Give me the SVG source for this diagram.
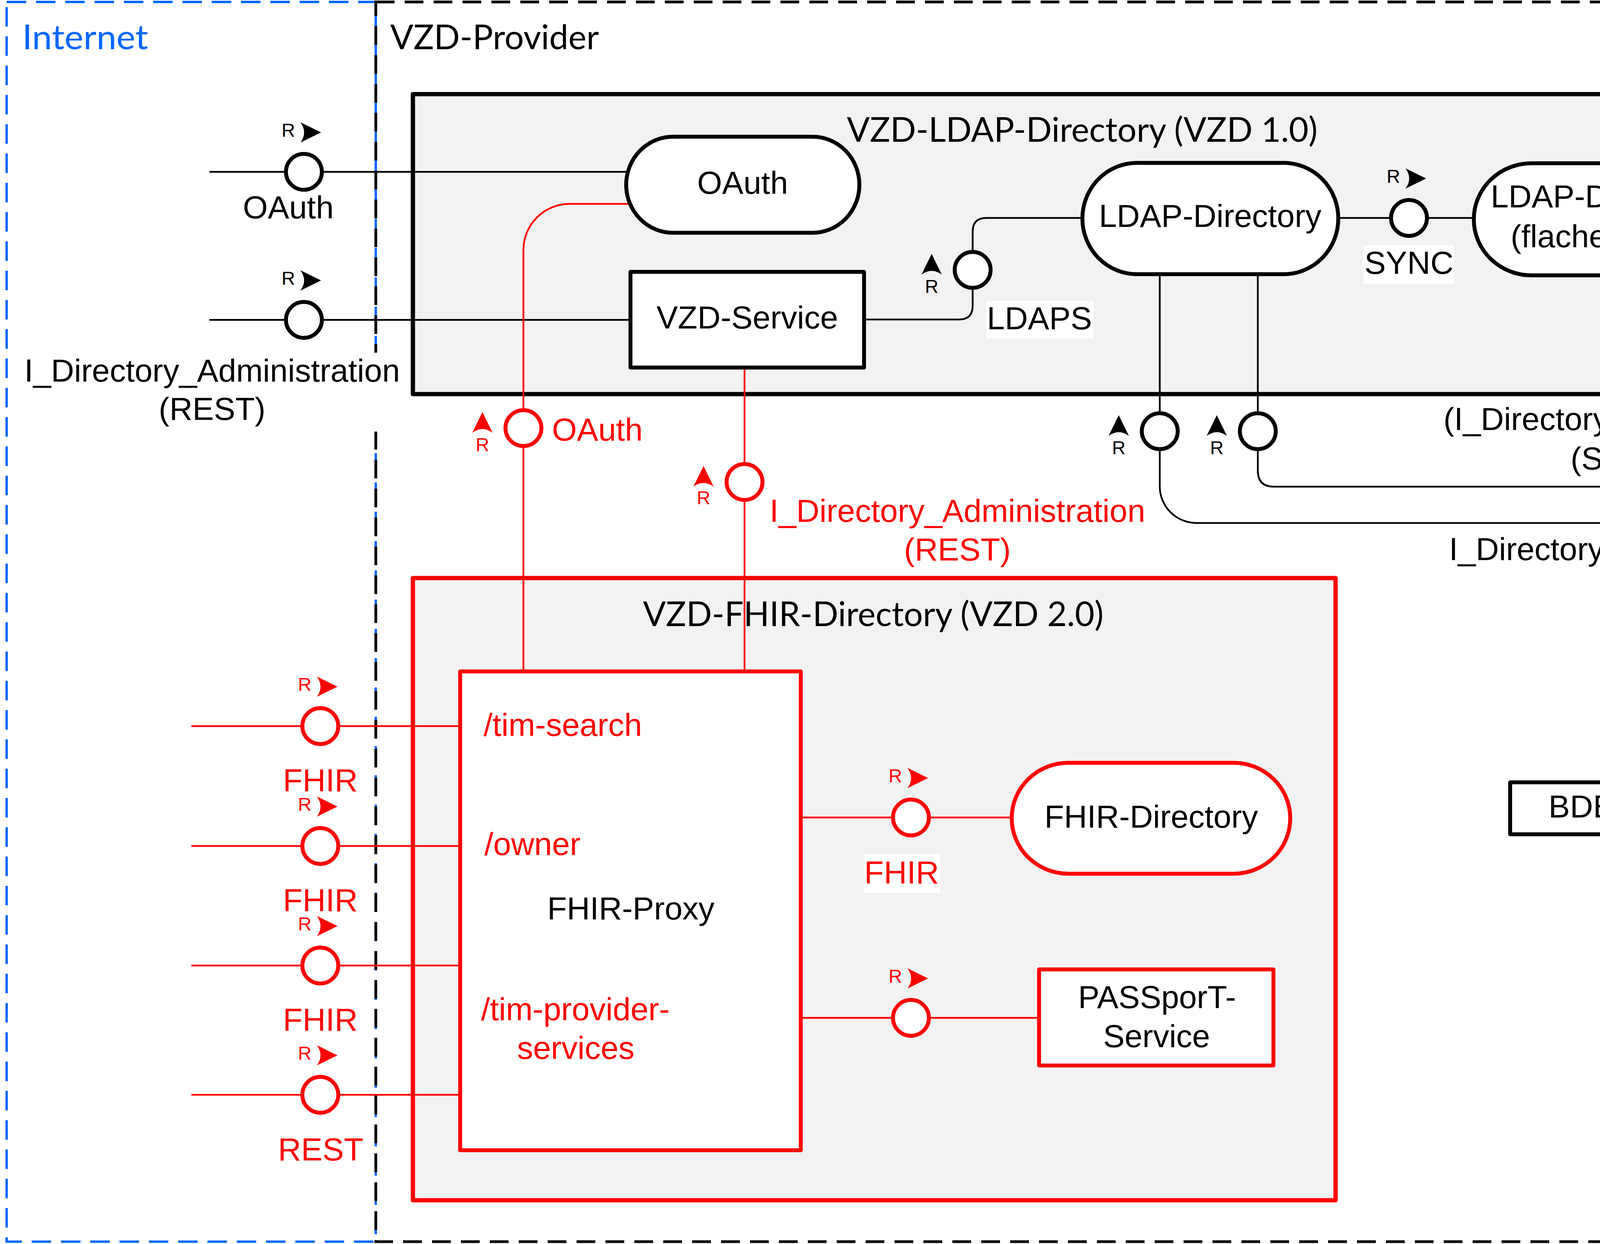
<svg xmlns="http://www.w3.org/2000/svg" width="5525" height="3185" viewBox="0 0 5525 3185">
<defs>
<style>
.zb{fill:none;stroke:#0066ff;stroke-width:6;stroke-dasharray:50 25}
.zk{fill:none;stroke:#000;stroke-width:7;stroke-dasharray:48 26}
.box{fill:#f2f2f2;stroke:#000;stroke-width:11;stroke-linejoin:round}
.boxr{fill:#f2f2f2;stroke:#f00;stroke-width:11;stroke-linejoin:round}
.n{fill:#fff;stroke:#000;stroke-width:10;stroke-linejoin:round}
.nr{fill:#fff;stroke:#f00;stroke-width:10;stroke-linejoin:round}
.c{fill:none;stroke:#000;stroke-width:4.5}
.cr{fill:none;stroke:#f00;stroke-width:4.5}
.lp{fill:#fff;stroke:#000;stroke-width:10}
.lpr{fill:#fff;stroke:#f00;stroke-width:10}
.t{font-family:"Liberation Sans",Arial,sans-serif;font-size:82px;fill:#000}
.cal{font-family:Lato,"Liberation Sans",sans-serif;font-size:88px;fill:#000}
.r{font-family:"Liberation Sans",Arial,sans-serif;font-size:48px;text-anchor:middle}
.m{text-anchor:middle}
.red{fill:#f00}
.blue{fill:#0066ff}
.bg{fill:#fff}
</style>
<path id="tR" d="M-9,-127 L44,-101 L-9,-75 Q10,-101 -9,-127Z"/>
<path id="tL" d="M10,-127 L-43,-101 L10,-75 Q-9,-101 10,-127Z"/>
<path id="tU" d="M-131,12 L-105,-41 L-79,12 Q-105,-7 -131,12Z"/>
</defs>

<g id="zones">
<rect class="zb" x="17" y="5" width="945" height="3174"/>
<rect class="zb" x="4577" y="5" width="942" height="3174"/>
<rect class="zk" x="962" y="5" width="3615" height="3174"/>
<text class="cal blue" x="57" y="126" textLength="322" lengthAdjust="spacingAndGlyphs">Internet</text>
<text class="cal" x="999" y="126" textLength="534" lengthAdjust="spacingAndGlyphs">VZD-Provider</text>
<text class="cal blue" x="4609" y="124" textLength="583" lengthAdjust="spacingAndGlyphs">Zentrales Netz</text>
</g>

<g id="vzd-ldap-directory">
<rect class="box" x="1057" y="241" width="3427" height="768"/>
<text class="cal" x="2168" y="363" textLength="1205" lengthAdjust="spacingAndGlyphs">VZD-LDAP-Directory (VZD 1.0)</text>
</g>

<g id="vzd-fhir-directory">
<rect class="boxr" x="1057" y="1480" width="2362" height="1593"/>
<text class="cal" x="1646" y="1603" textLength="1179" lengthAdjust="spacingAndGlyphs">VZD-FHIR-Directory (VZD 2.0)</text>
</g>

<g id="connectors">
<path class="c" d="M536,440 H1620"/>
<path class="c" d="M536,819 H1620"/>
<path class="c" d="M2205,818 H2455 Q2490,818 2490,783 V737"/>
<path class="c" d="M2490,645 V593 Q2490,558 2525,558 H2778"/>
<path class="c" d="M3420,558 H3780"/>
<path class="c" d="M4425,549 H5141"/>
<path class="c" d="M2969,705 V1058"/>
<path class="c" d="M2969,1150 V1245 A94,94 0 0 0 3063,1339 H5122"/>
<path class="c" d="M3220,705 V1058"/>
<path class="c" d="M3220,1150 V1205 Q3220,1246 3261,1246 H5114"/>
<path class="c" d="M4460,2061 H5172"/>
<path class="cr" d="M1625,522 H1458 A118,118 0 0 0 1340,640 V1050"/>
<path class="cr" d="M1340,1142 V1719"/>
<path class="cr" d="M1906,946 V1188"/>
<path class="cr" d="M1906,1280 V1719"/>
<path class="cr" d="M490,1859 H1178"/>
<path class="cr" d="M490,2166 H1178"/>
<path class="cr" d="M490,2472 H1178"/>
<path class="cr" d="M490,2803 H1178"/>
<path class="cr" d="M2050,2093 H2595"/>
<path class="cr" d="M2050,2606 H2665"/>
</g>

<g id="oauth">
<rect class="n" x="1603" y="350" width="597" height="246" rx="120" ry="123"/>
<text class="t m" x="1901" y="496">OAuth</text>
</g>
<g id="vzd-service">
<rect class="n" x="1614" y="696" width="598" height="245"/>
<text class="t m" x="1913" y="841">VZD-Service</text>
</g>
<g id="ldap-directory">
<rect class="n" x="2771" y="417" width="655" height="285" rx="140" ry="142"/>
<text class="t m" x="3098" y="581">LDAP-Directory</text>
</g>
<g id="ldap-directory-flach">
<rect class="n" x="3773" y="418" width="658" height="287" rx="148" ry="143"/>
<text class="t m" x="4101" y="531">LDAP-Directory</text>
<text class="t m" x="4102" y="633">(flache Liste)</text>
</g>
<g id="bde-client">
<rect class="n" x="3866" y="2003" width="599" height="133"/>
<text class="t m" x="4167" y="2093">BDE-Client</text>
</g>
<g id="fhir-proxy">
<rect class="nr" x="1178" y="1719" width="872" height="1226"/>
<text class="t m" x="1615" y="2354">FHIR-Proxy</text>
<text class="t red" x="1238" y="1884">/tim-search</text>
<text class="t red" x="1240" y="2189">/owner</text>
<text class="t red m" x="1473" y="2612">/tim-provider-</text>
<text class="t red m" x="1474" y="2711">services</text>
</g>
<g id="fhir-directory">
<rect class="nr" x="2590" y="1953" width="713" height="284" rx="145" ry="142"/>
<text class="t m" x="2947" y="2119">FHIR-Directory</text>
</g>
<g id="passport-service">
<rect class="nr" x="2660" y="2482" width="600" height="246"/>
<text class="t m" x="2962" y="2581">PASSporT-</text>
<text class="t m" x="2961" y="2681">Service</text>
</g>

<g id="if-oauth-ext">
<circle class="lp" cx="778" cy="440" r="46"/>
<use href="#tR" x="778" y="440"/>
<text class="r" x="738" y="350">R</text>
<text class="t m" x="738" y="559">OAuth</text>
</g>
<g id="if-admin-ext">
<circle class="lp" cx="778" cy="819" r="46"/>
<use href="#tR" x="778" y="819"/>
<text class="r" x="738" y="729">R</text>
<rect class="bg" x="50" y="903" width="985" height="202"/>
<text class="t m" x="543" y="977">I_Directory_Administration</text>
<text class="t m" x="543" y="1075">(REST)</text>
</g>
<g id="if-ldaps">
<circle class="lp" cx="2490" cy="691" r="46"/>
<use href="#tU" x="2490" y="691"/>
<text class="r" x="2385" y="750">R</text>
<rect class="bg" x="2525" y="770" width="274" height="97"/>
<text class="t m" x="2661" y="843">LDAPS</text>
</g>
<g id="if-sync">
<circle class="lp" cx="3607" cy="558" r="46"/>
<use href="#tR" x="3607" y="558"/>
<text class="r" x="3567" y="468">R</text>
<rect class="bg" x="3490" y="628" width="233" height="99"/>
<text class="t m" x="3607" y="701">SYNC</text>
</g>
<g id="if-query">
<circle class="lp" cx="4809" cy="549" r="46"/>
<use href="#tL" x="4809" y="549"/>
<text class="r" x="4850" y="459">R</text>
<text class="t m" x="4997" y="273">I_Directory_Query</text>
<text class="t m" x="4996" y="371">(LDAPS)</text>
</g>
<g id="if-app-maint">
<circle class="lp" cx="3220" cy="1104" r="46"/>
<use href="#tU" x="3220" y="1104"/>
<text class="r" x="3115" y="1163">R</text>
<rect class="bg" x="3680" y="1025" width="1415" height="202"/>
<text class="t m" x="4388" y="1101">(I_Directory_Application_Maintenance</text>
<text class="t m" x="4387" y="1202">(SOAP und LDAPS)</text>
</g>
<g id="if-maint">
<circle class="lp" cx="2969" cy="1104" r="46"/>
<use href="#tU" x="2969" y="1104"/>
<text class="r" x="2864" y="1163">R</text>
<rect class="bg" x="3695" y="1345" width="1245" height="115"/>
<text class="t m" x="4318" y="1434">I_Directory_Maintenance (SOAP)</text>
</g>
<g id="if-bde">
<circle class="lp" cx="4843" cy="2061" r="46"/>
<use href="#tR" x="4843" y="2061"/>
<text class="r" x="4803" y="1971">R</text>
<text class="t m" x="4893" y="2213">Betriebsdaten-</text>
<text class="t m" x="4893" y="2312">erfassung</text>
</g>

<g id="if-oauth-red" class="red">
<circle class="lpr" cx="1340" cy="1096" r="46"/>
<use href="#tU" x="1340" y="1096"/>
<text class="r" x="1235" y="1155">R</text>
<text class="t red" x="1413" y="1128">OAuth</text>
</g>
<g id="if-admin-red" class="red">
<circle class="lpr" cx="1906" cy="1234" r="46"/>
<use href="#tU" x="1906" y="1234"/>
<text class="r" x="1801" y="1291">R</text>
<text class="t red m" x="2451" y="1336">I_Directory_Administration</text>
<text class="t red m" x="2451" y="1435">(REST)</text>
</g>
<g id="if-tim-search" class="red">
<circle class="lpr" cx="820" cy="1859" r="46"/>
<use href="#tR" x="820" y="1859"/>
<text class="r" x="780" y="1769">R</text>
<text class="t red m" x="820" y="2026">FHIR</text>
</g>
<g id="if-owner" class="red">
<circle class="lpr" cx="820" cy="2166" r="46"/>
<use href="#tR" x="820" y="2166"/>
<text class="r" x="780" y="2076">R</text>
<text class="t red m" x="820" y="2333">FHIR</text>
</g>
<g id="if-provider-services" class="red">
<circle class="lpr" cx="820" cy="2472" r="46"/>
<use href="#tR" x="820" y="2472"/>
<text class="r" x="780" y="2382">R</text>
<text class="t red m" x="820" y="2639">FHIR</text>
</g>
<g id="if-rest" class="red">
<circle class="lpr" cx="820" cy="2803" r="46"/>
<use href="#tR" x="820" y="2803"/>
<text class="r" x="780" y="2713">R</text>
<text class="t red m" x="821" y="2971">REST</text>
</g>
<g id="if-fhir-dir" class="red">
<circle class="lpr" cx="2332" cy="2093" r="46"/>
<use href="#tR" x="2332" y="2093"/>
<text class="r" x="2292" y="2003">R</text>
<rect class="bg" x="2212" y="2186" width="195" height="100"/>
<text class="t red m" x="2308" y="2262">FHIR</text>
</g>
<g id="if-passport" class="red">
<circle class="lpr" cx="2332" cy="2606" r="46"/>
<use href="#tR" x="2332" y="2606"/>
<text class="r" x="2292" y="2516">R</text>
</g>
</svg>
